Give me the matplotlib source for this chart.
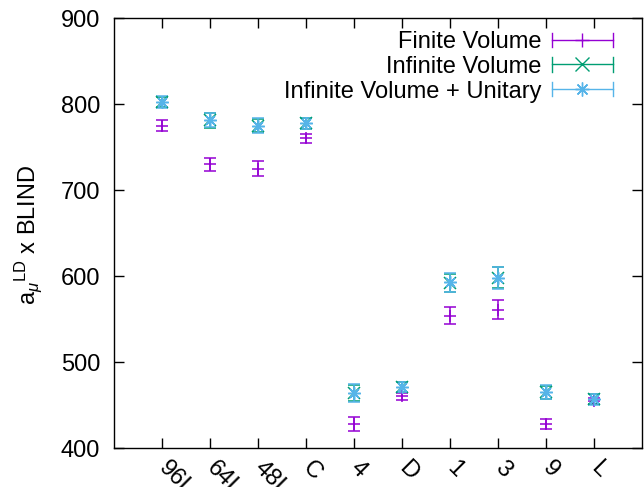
"""
plot.py

Gnuplot-style errorbar comparison of a_mu^LD (blinded) per ensemble,
finite volume vs infinite volume vs infinite volume + unitary.
"""

import matplotlib

matplotlib.use("Agg")
import matplotlib.pyplot as plt
import matplotlib.transforms as mtransforms
from matplotlib.container import ErrorbarContainer
from matplotlib.legend_handler import HandlerBase
from matplotlib.lines import Line2D

# =====================================================================
# DATA
# =====================================================================
ENSEMBLES = ["96I", "64I", "48I", "C", "4", "D", "1", "3", "9", "L"]

FV_VALUES = [775, 730, 725, 760, 428, 460, 554, 561, 428, 455]
FV_ERRORS = [6.5, 7.5, 8.5, 5.5, 8.5, 4, 10, 11.5, 5.5, 3.5]

IV_VALUES = [802, 781, 775, 777.5, 464, 471, 592, 598, 465, 457]
IV_ERRORS = [6, 8.5, 8, 6, 9, 5.5, 10.5, 12, 7.5, 5.5]

IVU_VALUES = [802, 781, 775, 777.5, 464, 471, 592.5, 598, 465, 456.5]
IVU_ERRORS = [7, 8, 8.5, 6.5, 10, 6, 11, 12.5, 8, 6]

SERIES_LABELS = ["Finite Volume", "Infinite Volume", "Infinite Volume + Unitary"]
# =====================================================================

FV_COLOR = "#9400D3"
IV_COLOR = "#009E73"
IVU_COLOR = "#56B4E9"
FONT_SIZE = 17

plt.rcParams["font.family"] = ["Liberation Sans", "DejaVu Sans"]
plt.rcParams["mathtext.fontset"] = "custom"
plt.rcParams["mathtext.rm"] = "Liberation Sans"
plt.rcParams["mathtext.it"] = "Liberation Sans:italic"


class HandlerGnuplotErr(HandlerBase):
    """Legend sample like gnuplot: horizontal bar with end caps and the
    point marker in the middle."""

    def create_artists(self, legend, orig_handle, xdescent, ydescent,
                       width, height, fontsize, trans):
        data_line = orig_handle.lines[0]
        color = data_line.get_color()
        y = height / 2.0 - ydescent
        x0, x1 = -xdescent, width - xdescent
        cap = 0.3 * fontsize
        artists = [
            Line2D([x0, x1], [y, y], color=color, lw=1.0),
            Line2D([x0, x0], [y - cap, y + cap], color=color, lw=1.0),
            Line2D([x1, x1], [y - cap, y + cap], color=color, lw=1.0),
            Line2D([(x0 + x1) / 2], [y], color=color, ls="none",
                   marker=data_line.get_marker(), markersize=10,
                   markeredgewidth=1.0),
        ]
        for a in artists:
            a.set_transform(trans)
        return artists


def make_plot(out_path):
    fig = plt.figure(figsize=(6.44, 4.87), dpi=100)
    ax = fig.add_axes([0.177, 0.080, 0.820, 0.883])

    xs = list(range(1, len(ENSEMBLES) + 1))
    style = dict(ls="none", capsize=4, elinewidth=1.1, capthick=1.1,
                 markersize=9, markeredgewidth=1.1)

    h_fv = ax.errorbar(xs, FV_VALUES, yerr=FV_ERRORS, color=FV_COLOR,
                       marker="+", label=SERIES_LABELS[0], **style)
    h_iv = ax.errorbar(xs, IV_VALUES, yerr=IV_ERRORS, color=IV_COLOR,
                       marker="x", label=SERIES_LABELS[1], **style)
    h_ivu = ax.errorbar(xs, IVU_VALUES, yerr=IVU_ERRORS, color=IVU_COLOR,
                        marker=(8, 2, 0), label=SERIES_LABELS[2], **style)

    ax.set_xlim(0, 11)
    ax.set_ylim(400, 900)
    ax.set_yticks([400, 500, 600, 700, 800, 900])
    ax.set_xticks(xs)
    ax.set_xticklabels(ENSEMBLES, rotation=-45, ha="left", va="center",
                       rotation_mode="anchor")
    shift = mtransforms.ScaledTranslation(-4 / 100, 2 / 100, fig.dpi_scale_trans)
    for lbl in ax.get_xticklabels():
        lbl.set_transform(lbl.get_transform() + shift)

    ax.tick_params(direction="in", length=7, width=1.0, top=True,
                   right=True, labelsize=FONT_SIZE)
    ax.tick_params(axis="y", pad=10)
    ax.tick_params(axis="x", pad=12)
    for spine in ax.spines.values():
        spine.set_linewidth(1.0)

    fig.text(28 / 644, 0.518, r"$\mathrm{a}_{\mu}{}^{\rm LD}$ x BLIND",
             rotation=90, ha="center", va="center", fontsize=FONT_SIZE)

    ax.legend(handles=[h_fv, h_iv, h_ivu], labels=SERIES_LABELS,
              handler_map={ErrorbarContainer: HandlerGnuplotErr()},
              loc="upper right", bbox_to_anchor=(0.945, 0.970),
              frameon=False, markerfirst=False, fontsize=FONT_SIZE,
              handlelength=2.6, handletextpad=0.45, labelspacing=0.12,
              borderpad=0, borderaxespad=0)

    fig.savefig(out_path, dpi=100)
    print(f"Saved plot to {out_path}")


def main():
    make_plot("out.png")


if __name__ == "__main__":
    main()
